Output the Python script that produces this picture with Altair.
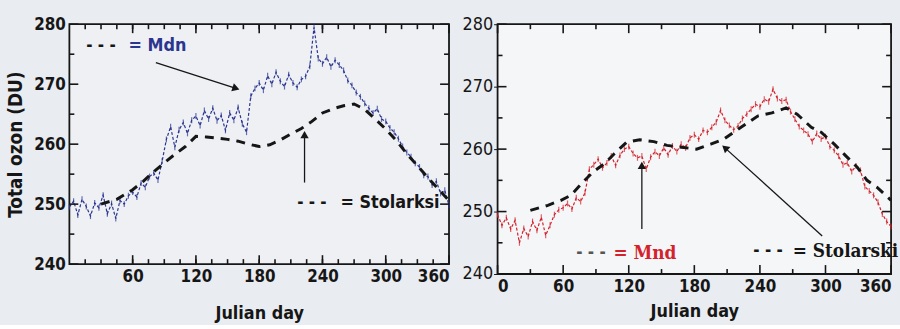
import altair as alt
import pandas as pd

# ---------------------------------------------------------------- data
# Retrieved daily total ozone, sampled every 4 Julian days (0 ... 360)
DAYS = list(range(0, 361, 4))

MDN = [
    249.5, 250.5, 248.2, 250.8, 249.6, 248.0, 250.2, 249.4, 251.5, 248.4,   # 0-36
    250.1, 247.6, 250.6, 250.0, 251.4, 252.0, 251.2, 253.5, 252.8, 254.6,   # 40-76
    255.2, 254.0, 257.2, 260.8, 262.9, 259.5, 262.4, 263.6, 261.8, 264.0,   # 80-116
    264.7, 263.1, 265.6, 264.2, 266.0, 263.9, 264.8, 262.3, 265.2, 264.0,   # 120-156
    266.1, 263.4, 262.0, 268.0, 269.3, 270.2, 269.0, 271.4, 270.0, 272.0,   # 160-196
    270.5, 269.6, 271.6, 270.2, 269.5, 270.8, 271.3, 273.0, 279.5, 274.3,   # 200-236
    273.4, 274.5, 272.9, 274.0, 273.2, 272.3, 270.6, 269.8, 268.6, 267.9,   # 240-276
    266.8, 266.0, 265.2, 265.9, 264.2, 263.8, 262.7, 262.0, 260.9, 259.6,   # 280-316
    258.6, 257.9, 256.8, 256.2, 254.8, 254.6, 253.2, 253.8, 251.8, 252.3,   # 320-356
    249.8,                                                                  # 360
]

MND = [
    249.5, 247.8, 249.0, 247.2, 248.6, 245.0, 247.3, 246.0, 248.4, 247.0,   # 0-36
    249.1, 246.2, 247.8, 249.5, 250.3, 250.6, 251.3, 250.4, 252.2, 251.6,   # 40-76
    253.0, 256.8, 257.5, 258.4, 257.0, 257.8, 258.9, 257.4, 259.0, 260.0,   # 80-116
    260.4, 259.3, 258.6, 258.9, 256.8, 258.7, 259.6, 258.9, 260.2, 259.1,   # 120-156
    260.5, 259.6, 260.8, 260.2, 261.8, 262.3, 261.6, 263.0, 262.7, 263.5,   # 160-196
    264.3, 266.2, 264.6, 263.8, 263.1, 263.7, 264.9, 265.6, 266.4, 267.2,   # 200-236
    266.8, 268.0, 267.6, 269.6, 268.1, 267.7, 267.9, 266.0, 264.8, 263.6,   # 240-276
    263.0, 262.4, 261.2, 262.5, 261.6, 262.0, 260.4, 259.8, 258.9, 257.5,   # 280-316
    257.8, 256.4, 257.3, 256.6, 254.0, 253.3, 252.6, 251.5, 249.6, 248.4,   # 320-356
    247.6,                                                                  # 360
]

# Stolarski climatology curves
STOL_L_DAY = [30, 45, 60, 70, 80, 90, 100, 110, 120, 130, 140, 150, 160, 170, 180,
              190, 200, 210, 220, 230, 240, 250, 260, 270, 280, 290, 300, 310, 320,
              330, 340, 350, 360]
STOL_L_VAL = [250.0, 250.8, 252.4, 253.8, 255.4, 256.9, 258.3, 259.6, 261.3, 261.2,
              261.0, 260.8, 260.5, 260.0, 259.6, 259.9, 260.7, 261.7, 262.6, 263.8,
              265.2, 265.9, 266.4, 266.7, 265.8, 264.2, 262.5, 260.6, 258.4, 256.4,
              254.4, 252.5, 250.6]

STOL_R_DAY = [30, 46, 58, 67, 77, 87, 98, 107, 118, 130, 143, 155, 168, 182, 195,
              207, 216, 227, 238, 251, 264, 274, 287, 296, 308, 317, 329, 338, 347, 360]
STOL_R_VAL = [250.2, 251.0, 251.8, 252.6, 254.5, 256.3, 257.7, 259.3, 261.1, 261.5,
              261.2, 260.6, 260.3, 260.0, 260.8, 261.6, 262.7, 264.0, 265.3, 265.8,
              266.6, 265.6, 263.5, 262.7, 260.8, 259.2, 257.1, 255.0, 253.9, 251.8]

# axis tick positions
LEFT_X_MINOR = list(range(15, 360, 15))
LEFT_X_MAJOR = [60, 120, 180, 240, 300, 360]
RIGHT_X_MINOR = [30, 90, 150, 210, 270, 330]
RIGHT_X_MAJOR = [0, 60, 120, 180, 240, 300, 360]
Y_MINOR = [245, 255, 265, 275]
Y_MAJOR = [240, 250, 260, 270, 280]

# ---------------------------------------------------------------- styling
BG = "#e9ecf0"
SANS = "Liberation Sans Narrow, DejaVu Sans Condensed, Roboto, sans-serif"
SERIF = "DejaVu Serif Condensed, Liberation Serif, serif"
BLUE = "#2b3590"
RED = "#d3222c"
INK = "#161616"

WL, HL = 383, 242
WR, HR = 397, 252

XS = alt.Scale(domain=[0, 360], nice=False, zero=False)
YS = alt.Scale(domain=[240, 280], nice=False, zero=False)

series_df = pd.DataFrame({"day": DAYS, "mdn": MDN, "mnd": MND})
stol_l = pd.DataFrame({"day": STOL_L_DAY, "v": STOL_L_VAL})
stol_r = pd.DataFrame({"day": STOL_R_DAY, "v": STOL_R_VAL})


def inward_ticks(xminor, xmajor, w, h):
    """Frame ticks drawn inside the plot on all four sides."""
    layers = []
    for vals, ln in ((xminor, 5), (xmajor, 9)):
        d = pd.DataFrame({"t": vals})
        layers.append(alt.Chart(d).mark_rule(color=INK, strokeWidth=1.6).encode(
            x=alt.X("t:Q", scale=XS), y=alt.value(0), y2=alt.value(ln)))
        layers.append(alt.Chart(d).mark_rule(color=INK, strokeWidth=1.6).encode(
            x=alt.X("t:Q", scale=XS), y=alt.value(h), y2=alt.value(h - ln)))
    for vals, ln in ((Y_MINOR, 5), (Y_MAJOR, 9)):
        d = pd.DataFrame({"t": vals})
        layers.append(alt.Chart(d).mark_rule(color=INK, strokeWidth=1.6).encode(
            y=alt.Y("t:Q", scale=YS), x=alt.value(0), x2=alt.value(ln)))
        layers.append(alt.Chart(d).mark_rule(color=INK, strokeWidth=1.6).encode(
            y=alt.Y("t:Q", scale=YS), x=alt.value(w), x2=alt.value(w - ln)))
    return layers


def text_at(day, val, txt, color, font, size, weight="bold", align="left"):
    d = pd.DataFrame({"day": [day], "v": [val], "txt": [txt]})
    return alt.Chart(d).mark_text(
        align=align, baseline="middle", font=font, fontSize=size,
        fontWeight=weight, color=color, clip=False
    ).encode(x=alt.X("day:Q", scale=XS), y=alt.Y("v:Q", scale=YS), text="txt:N")


def arrow(d0, v0, d1, v1, angle):
    seg = pd.DataFrame({"a": [d0], "b": [v0], "c": [d1], "d": [v1]})
    line = alt.Chart(seg).mark_rule(color=INK, strokeWidth=1.3).encode(
        x=alt.X("a:Q", scale=XS), y=alt.Y("b:Q", scale=YS), x2="c:Q", y2="d:Q")
    head = alt.Chart(seg).mark_point(
        shape="triangle-up", filled=True, color=INK, opacity=1, size=70, angle=angle
    ).encode(x=alt.X("c:Q", scale=XS), y=alt.Y("d:Q", scale=YS))
    return [line, head]


# ---------------------------------------------------------------- left panel
x_left = alt.X("day:Q", scale=XS, title="Julian day",
               axis=alt.Axis(values=LEFT_X_MAJOR, ticks=False, domain=False, grid=False,
                             labelFont=SANS, labelFontWeight="bold", labelFontSize=17,
                             labelColor=INK, labelPadding=5, titleFont=SANS,
                             titleFontWeight="bold", titleFontSize=18, titleColor=INK,
                             titlePadding=20))
y_left = alt.Y("mdn:Q", scale=YS, title="Total ozon (DU)",
               axis=alt.Axis(values=Y_MAJOR, ticks=False, domain=False, grid=False,
                             labelFont=SANS, labelFontWeight="bold", labelFontSize=17,
                             labelColor=INK, labelPadding=4, titleFont=SANS,
                             titleFontWeight="bold", titleFontSize=19, titleColor=INK,
                             titlePadding=8))

mdn_line = alt.Chart(series_df).mark_line(
    color=BLUE, strokeWidth=1.2, strokeDash=[3, 2]).encode(x=x_left, y=y_left)
mdn_ticks = alt.Chart(series_df).mark_tick(
    color=BLUE, orient="vertical", size=6, thickness=1.2).encode(
    x=alt.X("day:Q", scale=XS), y=alt.Y("mdn:Q", scale=YS))
stol_left = alt.Chart(stol_l).mark_line(
    color=INK, strokeWidth=3, strokeDash=[9, 7]).encode(
    x=alt.X("day:Q", scale=XS), y=alt.Y("v:Q", scale=YS))

left_layers = [mdn_line, mdn_ticks, stol_left]
left_layers += inward_ticks(LEFT_X_MINOR, LEFT_X_MAJOR, WL, HL)
left_layers += [
    text_at(16, 276.3, "- - -", INK, SANS, 17),
    text_at(56, 276.3, "= Mdn", BLUE, SANS, 18),
    text_at(216, 250.1, "- - -", INK, SANS, 17),
    text_at(257, 250.1, "= Stolarksi", INK, SANS, 18),
]
left_layers += arrow(82, 273.6, 158, 269.3, 108)
left_layers += arrow(223, 253.6, 223, 261.6, 0)

left = alt.layer(*left_layers).properties(
    width=WL, height=HL,
    view=alt.ViewBackground(fill="#eef0f4", stroke=INK, strokeWidth=1.8))

# ---------------------------------------------------------------- right panel
x_right = alt.X("day:Q", scale=XS, title="Julian day",
                axis=alt.Axis(values=RIGHT_X_MAJOR, ticks=False, domain=False, grid=False,
                              labelFont=SANS, labelFontWeight="bold", labelFontSize=17,
                              labelColor=INK, labelPadding=5, titleFont=SANS,
                              titleFontWeight="bold", titleFontSize=18, titleColor=INK,
                              titlePadding=8))
y_right = alt.Y("mnd:Q", scale=YS, title=None,
                axis=alt.Axis(values=Y_MAJOR, ticks=True, tickSize=4, tickColor=INK,
                              domain=False, grid=False, labelFont=SANS,
                              labelFontWeight="normal", labelFontSize=18,
                              labelColor=INK, labelPadding=1))

mnd_line = alt.Chart(series_df).mark_line(
    color=RED, strokeWidth=1.2, strokeDash=[3, 2]).encode(x=x_right, y=y_right)
mnd_ticks = alt.Chart(series_df).mark_tick(
    color=RED, orient="vertical", size=6, thickness=1.2).encode(
    x=alt.X("day:Q", scale=XS), y=alt.Y("mnd:Q", scale=YS))
stol_right = alt.Chart(stol_r).mark_line(
    color=INK, strokeWidth=3, strokeDash=[9, 7]).encode(
    x=alt.X("day:Q", scale=XS), y=alt.Y("v:Q", scale=YS))

right_layers = [mnd_line, mnd_ticks, stol_right]
right_layers += inward_ticks(RIGHT_X_MINOR, RIGHT_X_MAJOR, WR, HR)
right_layers += [
    text_at(72, 243.4, "- - -", "#555555", SANS, 17),
    text_at(106, 243.4, "= Mnd", RED, SERIF, 19),
    text_at(234, 243.6, "- - -", INK, SANS, 17),
    text_at(270, 243.6, "= Stolarski", INK, SERIF, 19),
]
right_layers += arrow(132, 247.2, 132, 257.4, 0)
right_layers += arrow(297, 246.1, 208, 260.2, 311)

right = alt.layer(*right_layers).properties(
    width=WR, height=HR,
    view=alt.ViewBackground(fill="#f5f6f8", stroke=INK, strokeWidth=1.8))

chart = alt.hconcat(left, right, spacing=5).properties(
    background=BG,
    padding={"left": 6, "top": 13, "right": 0, "bottom": 0},
)

chart.save("out.html", embed_options={"renderer": "svg", "actions": False})
